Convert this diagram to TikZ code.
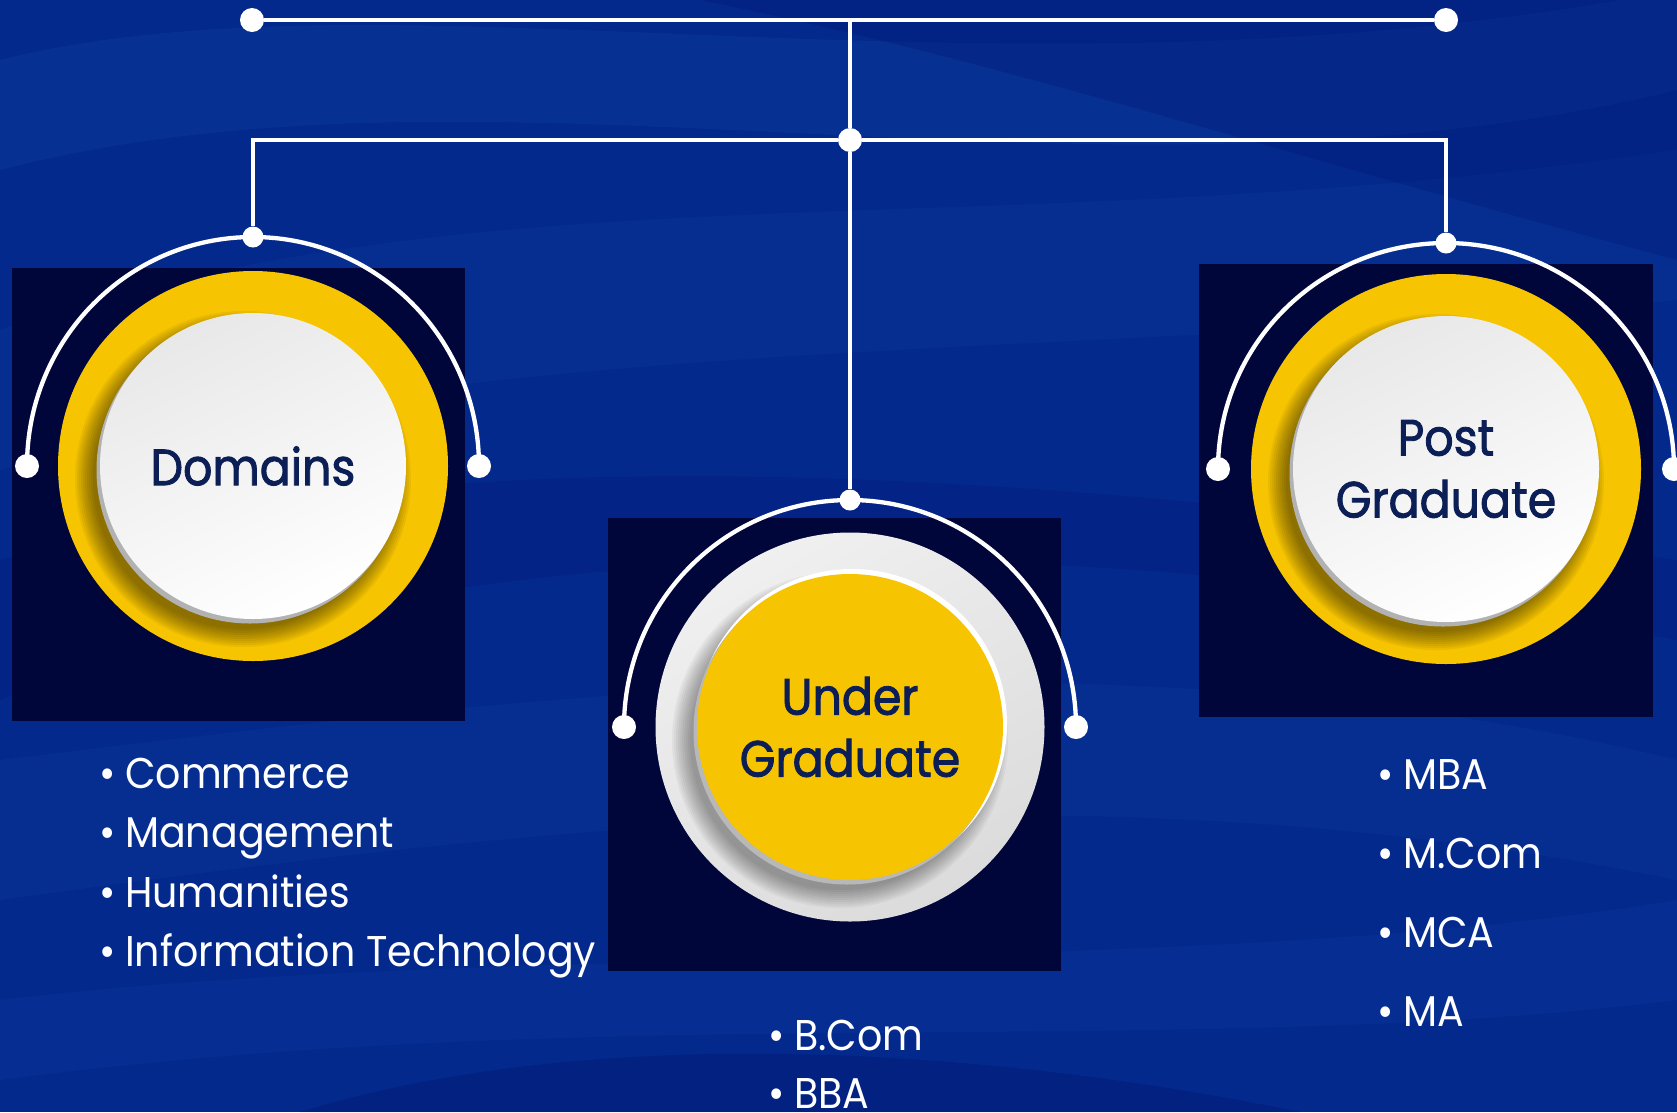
\documentclass[tikz,border=0pt]{standalone}
\usepackage{fontspec}
\setmainfont{Poppins}[FakeStretch=0.92]
\newfontfamily\headfont{Poppins}[FakeBold=1.7,FakeStretch=0.9]
\usetikzlibrary{positioning}

\definecolor{bgblue}{HTML}{04298D}
\definecolor{wavelight}{HTML}{1550B0}
\definecolor{wavedark}{HTML}{00146A}
\definecolor{panelnavy}{HTML}{00063A}
\definecolor{gold}{HTML}{F6C400}
\definecolor{inknavy}{HTML}{0B1E55}

\tikzset{
  panel/.style={fill=panelnavy},
  wire/.style={draw=white, line width=4.3pt},
  dot/.style={circle, fill=white, inner sep=0pt, minimum size=24pt},
  topdot/.style={circle, fill=white, inner sep=0pt, minimum size=21pt},
  golddisc/.style={circle, fill=gold, inner sep=0pt, minimum size=390pt},
  greydisc/.style={circle, inner sep=0pt, minimum size=389pt,
    top color=white!94!black, bottom color=white!86!black, shading angle=30},
  whitedisc/.style={circle, inner sep=0pt, minimum size=306pt, align=center,
    top color=white!91!black, bottom color=white, shading angle=25,
    text=inknavy, font=\headfont\fontsize{51}{62}\selectfont},
  innergold/.style={circle, inner sep=0pt, minimum size=306pt, align=center, fill=gold,
    text=inknavy, font=\headfont\fontsize{51}{62}\selectfont},
  item/.style={text=white, anchor=base west, inner sep=0pt, font=\fontsize{43}{50}\selectfont},
}

\begin{document}
\begin{tikzpicture}[x=1pt,y=-1pt]
\useasboundingbox (0,0) rectangle (1677,1112);
% background and waves
\fill[bgblue] (0,0) rectangle (1677,1112);
\fill[wavelight,opacity=.18] (0,60) .. controls (400,-40) and (1000,120) .. (1677,-10) -- (1677,90) .. controls (1100,230) and (500,40) .. (0,170) -- cycle;
\fill[wavelight,opacity=.14] (0,330) .. controls (500,160) and (1000,250) .. (1677,150) -- (1677,300) .. controls (1100,360) and (500,330) .. (0,470) -- cycle;
\fill[wavedark,opacity=.25] (700,0) .. controls (1000,60) and (1300,160) .. (1677,260) -- (1677,0) -- cycle;
\fill[wavedark,opacity=.2] (0,560) .. controls (300,480) and (700,420) .. (1677,560) -- (1677,640) .. controls (900,500) and (400,560) .. (0,700) -- cycle;
\fill[wavelight,opacity=.14] (0,760) .. controls (500,700) and (1100,620) .. (1677,760) -- (1677,880) .. controls (1100,760) and (500,830) .. (0,900) -- cycle;
\fill[wavelight,opacity=.12] (0,1000) .. controls (500,940) and (1200,980) .. (1677,900) -- (1677,1000) .. controls (1200,1060) and (600,1000) .. (0,1080) -- cycle;
\fill[wavedark,opacity=.35] (300,1112) .. controls (600,1020) and (1000,1050) .. (1300,1112) -- cycle;

% dark panels
\fill[panel] (12,268) rectangle (465,721);
\fill[panel] (608,518) rectangle (1061,971);
\fill[panel] (1199,264) rectangle (1653,717);

% Domains
\node[golddisc] (domring) at (253,466) {};
\foreach \k in {0,...,9}
  \fill[black,opacity=.05] (243,479) circle (150+2*\k);
\fill[white!70!black] (250,470) circle (153.5);
\node[whitedisc] (dom) at (253,466) {Domains};

% Under Graduate
\node[greydisc] (ugring) at (850,727) {};
\foreach \k in {0,...,9}
  \fill[black,opacity=.04] (840,740) circle (150+2*\k);
\fill[white] (852,724) circle (155);
\fill[white!72!black] (847,731) circle (153.5);
\node[innergold] (ug) at (850,727) {Under\\Graduate};

% Post Graduate
\node[golddisc] (pgring) at (1446,469) {};
\foreach \k in {0,...,9}
  \fill[black,opacity=.05] (1436,482) circle (150+2*\k);
\fill[white!70!black] (1443,473) circle (153.5);
\node[whitedisc] (pg) at (1446,469) {Post\\Graduate};

% half rings round the discs
\draw[wire] (27,466) arc[start angle=180, end angle=360, x radius=226, y radius=229];
\draw[wire] (624,727) arc[start angle=180, end angle=360, x radius=226, y radius=227];
\draw[wire] (1218,469) arc[start angle=180, end angle=360, x radius=228, y radius=226];

% dots
\node[dot] (topL) at (252,20) {};
\node[dot] (topR) at (1446,20) {};
\coordinate (hub) at (850,20);
\node[dot] (mid) at (850,140) {};
\node[topdot] (domtop) at (253,237) {};
\node[topdot] (ugtop) at (850,500) {};
\node[topdot] (pgtop) at (1446,243) {};
\node[dot] (domL) at (27,466) {};
\node[dot] (domR) at (479,466) {};
\node[dot] (ugL) at (624,727) {};
\node[dot] (ugR) at (1076,727) {};
\node[dot] (pgL) at (1218,469) {};
\node[dot] (pgR) at (1674,469) {};

% connectors
\draw[wire] (topL) -- (topR);
\draw[wire] (hub) -- (mid);
\draw[wire] (mid) -- (ugtop);
\draw[wire] (domtop) |- (mid);
\draw[wire] (mid) -| (pgtop);

% lists
\foreach \t [count=\i] in {Commerce,Management,Humanities,Information Technology}
  \node[item] (domitem-\i) at (125,{729.3+59.3*\i}) {\llap{•\hspace{9pt}}\t};
\foreach \t [count=\i] in {B.Com,BBA}
  \node[item] (ugitem-\i) at (794,{992.7+58*\i}) {\llap{•\hspace{9pt}}\t};
\foreach \t [count=\i] in {MBA,M.Com,MCA,MA}
  \node[item] (pgitem-\i) at (1403,{710.2+79.1*\i}) {\llap{•\hspace{9pt}}\t};
\end{tikzpicture}
\end{document}
